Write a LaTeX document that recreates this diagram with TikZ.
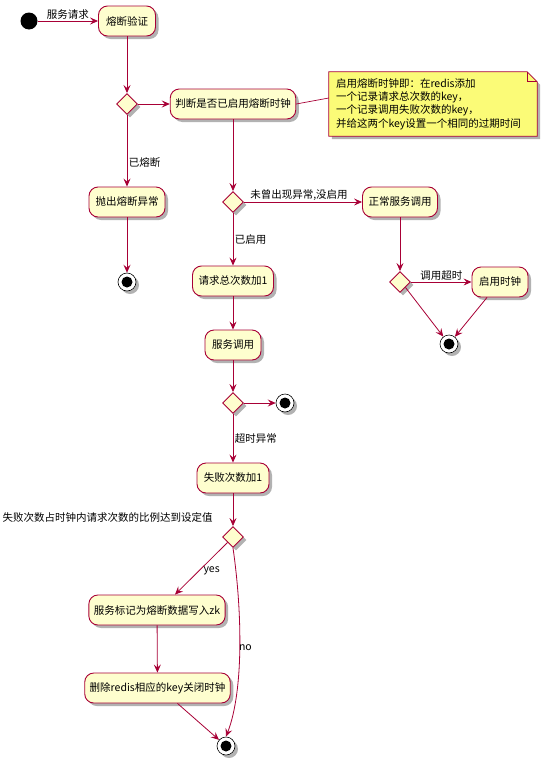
\documentclass[tikz,border=0pt]{standalone}
\usepackage{fontspec}
\setmainfont{Noto Sans CJK SC}
\usetikzlibrary{shapes.geometric,arrows.meta,shadows}
\definecolor{umlred}{HTML}{A80036}
\definecolor{umlfill}{HTML}{FEFECE}
\definecolor{notefill}{HTML}{FBFB77}
\tikzset{
  shad/.style={drop shadow={shadow xshift=3pt, shadow yshift=-3pt, fill=black, opacity=0.3}},
  act/.style={draw=umlred, fill=umlfill, rounded corners=9pt, line width=0.9pt, minimum height=30pt,
    inner xsep=5pt, font=\fontsize{10.5}{12}\selectfont, shad},
  dec/.style={diamond, draw=umlred, fill=umlfill, line width=0.9pt, minimum width=21pt,
    minimum height=21pt, inner sep=0pt, shad},
  startnode/.style={circle, fill=black, minimum size=17pt, inner sep=0pt},
  endnode/.style={circle, draw=black, line width=0.6pt, fill=white, minimum size=18pt, inner sep=0pt,
    path picture={\fill[black] (path picture bounding box.center) circle (5.5pt);}, shad},
  flow/.style={draw=umlred, line width=0.8pt, -{Stealth[length=8pt,width=7pt,inset=3pt]}},
  lbl/.style={font=\fontsize{10.5}{12}\selectfont, inner sep=1.5pt, text=black},
  notetext/.style={font=\fontsize{10.5}{13.4}\selectfont, align=left, text width=194pt,
    inner xsep=7pt, minimum height=64pt}
}
\begin{document}
\begin{tikzpicture}[x=1pt,y=-1pt]
\fill[white] (0,0) rectangle (554,763);
\useasboundingbox (0,0) rectangle (554,763);

% nodes
\node[startnode] (start) at (29,21) {};
\node[act, minimum width=57pt] (verify) at (127,21) {熔断验证};
\node[dec] (d1) at (127,104) {};
\node[act, minimum width=125pt] (judge) at (233,104) {判断是否已启用熔断时钟};
\node[notetext] (note) at (433,104) {\phantom{x}};
\node[act, minimum width=76pt] (throw) at (127,202) {抛出熔断异常};
\node[endnode] (e1) at (127,282) {};
\node[dec] (d2) at (233,202) {};
\node[act, minimum width=75pt] (normal) at (400,202) {正常服务调用};
\node[act, minimum width=81pt] (req) at (233,281) {请求总次数加1};
\node[dec] (d3) at (400,282) {};
\node[act, minimum width=56pt] (clock) at (500,282) {启用时钟};
\node[endnode] (e2) at (449,344) {};
\node[act, minimum width=56pt] (call) at (233,345) {服务调用};
\node[dec] (d4) at (233,403) {};
\node[endnode] (e3) at (285,403) {};
\node[act, minimum width=72pt] (fail) at (233,478) {失败次数加1};
\node[dec] (d5) at (233,537) {};
\node[lbl, anchor=west] (cond) at (1,517) {失败次数占时钟内请求次数的比例达到设定值};
\node[act, minimum width=130pt] (mark) at (157,610) {服务标记为熔断数据写入zk};
\node[act, minimum width=145pt] (del) at (157.5,688) {删除redis相应的key关闭时钟};
\node[endnode] (e4) at (226,746) {};

% note shape
\path[fill=notefill, draw=umlred, line width=0.7pt, shad]
  (note.north west) -- ([xshift=-10pt]note.north east) -- ([yshift=-10pt]note.north east)
  -- (note.south east) -- (note.south west) -- cycle;
\draw[umlred, line width=0.7pt] ([xshift=-10pt]note.north east) -- ([xshift=-10pt,yshift=-10pt]note.north east) -- ([yshift=-10pt]note.north east);
\node[notetext] (notebody) at (note.center) {启用熔断时钟即：在redis添加\\一个记录请求总次数的key，\\一个记录调用失败次数的key，\\并给这两个key设置一个相同的过期时间};
\draw[umlred, line width=0.7pt] (judge.east) -- ([yshift=6pt]note.west);

% connectors
\draw[flow] (start) -- node[lbl, above] (l1) {服务请求} (verify);
\draw[flow] (verify) -- (d1);
\draw[flow] (d1) -- (judge);
\draw[flow] (d1) -- node[lbl, right, pos=0.66] (l2) {已熔断} (throw);
\draw[flow] (throw) -- (e1);
\draw[flow] (judge) -- (d2);
\draw[flow] (d2) -- node[lbl, above, xshift=-4pt] (l3) {未曾出现异常,没启用} (normal);
\draw[flow] (d2) -- node[lbl, right] (l4) {已启用} (req);
\draw[flow] (normal) -- (d3);
\draw[flow] (d3) -- node[lbl, above] (l5) {调用超时} (clock);
\draw[flow] (d3.south east) -- (e2);
\draw[flow] ([xshift=-13pt]clock.south) -- (e2);
\draw[flow] (req) -- (call);
\draw[flow] (call) -- (d4);
\draw[flow] (d4) -- (e3);
\draw[flow] (d4) -- node[lbl, right] (l6) {超时异常} (fail);
\draw[flow] (fail) -- (d5);
\draw[flow] (d5.south west) -- node[lbl, right, pos=0.55, xshift=3pt] (l7) {yes} ([xshift=18pt]mark.north);
\draw[flow] (mark) -- (del);
\draw[flow] ([xshift=20pt]del.south) -- (e4);
\draw[flow] (d5.south) .. controls (242,610) and (244,690) .. node[lbl, anchor=west, pos=0.5, inner sep=0pt, xshift=-1pt] (l8) {no} (e4.north);
\end{tikzpicture}
\end{document}
